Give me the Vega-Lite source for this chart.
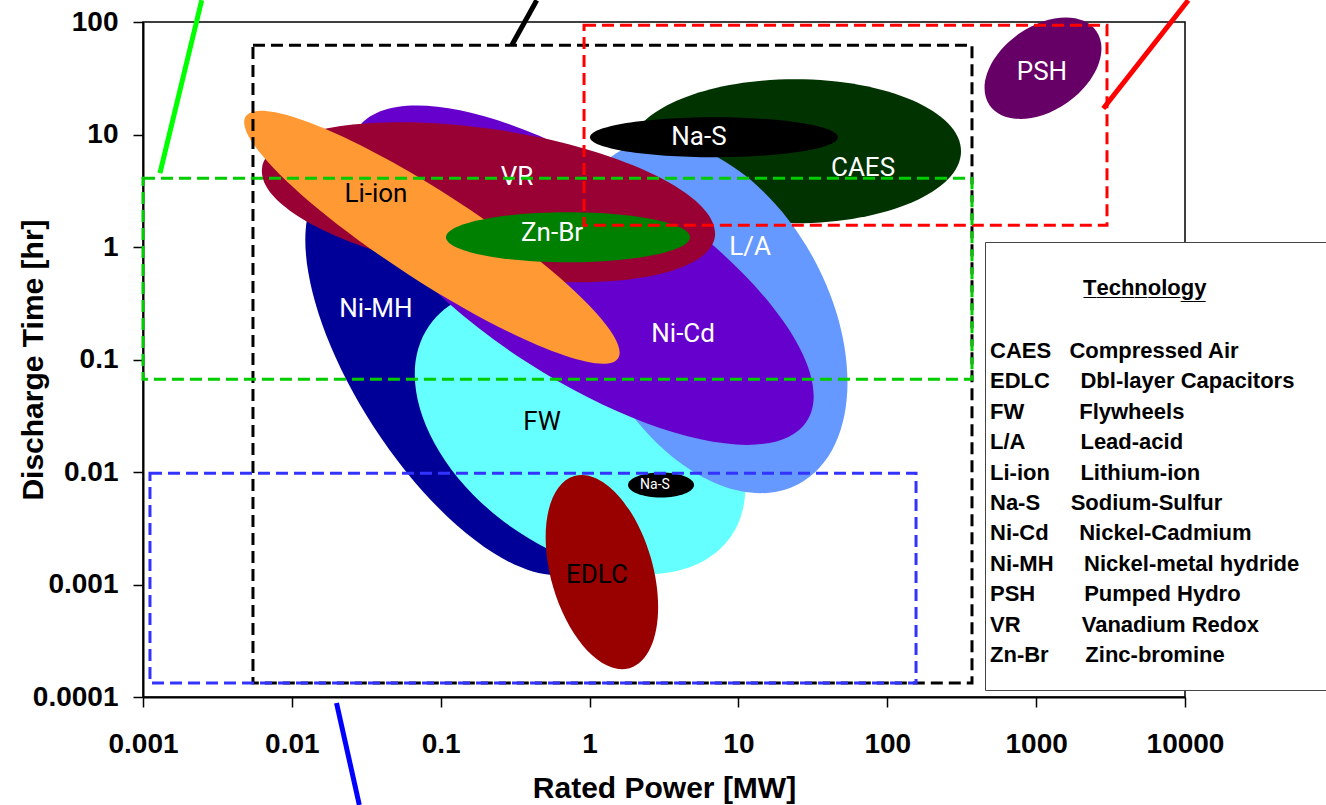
{
  "$schema": "https://vega.github.io/schema/vega-lite/v6.json",
  "width": 1042,
  "height": 675,
  "autosize": {"type": "none"},
  "padding": {"left": 143, "top": 22, "right": 141, "bottom": 108},
  "background": "white",
  "config": {
    "view": {"stroke": "black", "strokeWidth": 1.5},
    "axis": {
      "labelFont": "Liberation Sans", "labelFontWeight": "bold", "labelFontSize": 28, "labelColor": "black",
      "titleFont": "Liberation Sans", "titleFontWeight": "bold", "titleFontSize": 30, "titleColor": "black",
      "domainColor": "black", "domainWidth": 2, "tickColor": "black", "tickWidth": 1.5, "tickSize": 10, "grid": false
    }
  },
  "datasets": {
    "ellipses": [
      {"id": "PSH", "tech": "PSH", "power": 1112, "time": 38.8},
      {"id": "CAES", "tech": "CAES", "power": 24.0, "time": 7.10},
      {"id": "Ni-MH", "tech": "Ni-MH", "power": 0.125, "time": 0.0741},
      {"id": "FW", "tech": "FW", "power": 0.863, "time": 0.0231},
      {"id": "L/A", "tech": "L/A", "power": 6.44, "time": 0.238},
      {"id": "Ni-Cd", "tech": "Ni-Cd", "power": 0.889, "time": 0.561},
      {"id": "VR", "tech": "VR", "power": 0.2095, "time": 2.50},
      {"id": "Li-ion", "tech": "Li-ion", "power": 0.0873, "time": 1.22},
      {"id": "Zn-Br", "tech": "Zn-Br", "power": 0.716, "time": 1.22},
      {"id": "Na-S", "tech": "Na-S", "power": 6.85, "time": 9.46},
      {"id": "EDLC", "tech": "EDLC", "power": 1.21, "time": 0.00129},
      {"id": "Na-S (small)", "tech": "Na-S", "power": 3.02, "time": 0.00765}
    ],
    "labels": [
      {"id": "PSH", "label": "PSH", "power": 1094, "time": 35.7},
      {"id": "Na-S", "label": "Na-S", "power": 5.43, "time": 9.46},
      {"id": "CAES", "label": "CAES", "power": 68.7, "time": 5.01},
      {"id": "VR", "label": "VR", "power": 0.325, "time": 4.17},
      {"id": "Li-ion", "label": "Li-ion", "power": 0.0367, "time": 2.94},
      {"id": "Zn-Br", "label": "Zn-Br", "power": 0.560, "time": 1.33},
      {"id": "L/A", "label": "L/A", "power": 11.97, "time": 0.996},
      {"id": "Ni-MH", "label": "Ni-MH", "power": 0.0367, "time": 0.280},
      {"id": "Ni-Cd", "label": "Ni-Cd", "power": 4.25, "time": 0.168},
      {"id": "FW", "label": "FW", "power": 0.479, "time": 0.0277},
      {"id": "Na-S (small)", "label": "Na-S", "power": 2.75, "time": 0.00765},
      {"id": "EDLC", "label": "EDLC", "power": 1.12, "time": 0.00121}
    ],
    "zones": [
      {"zone": "outer", "power": 0.00548, "power2": 370.7, "time": 0.000133, "time2": 62.1},
      {"zone": "upper", "power": 0.918, "power2": 2992, "time": 1.563, "time2": 93.5},
      {"zone": "middle", "power": 0.001, "power2": 370.7, "time": 0.0669, "time2": 4.09},
      {"zone": "lower", "power": 0.001114, "power2": 156, "time": 0.000133, "time2": 0.00977}
    ],
    "pointers": [
      {"pointer": "middle", "power": 0.0013, "time": 4.53, "power2": 0.00248, "time2": 156},
      {"pointer": "outer", "power": 0.300, "time": 62.1, "power2": 0.4416, "time2": 156},
      {"pointer": "upper", "power": 2825, "time": 17.0, "power2": 10520, "time2": 156},
      {"pointer": "lower", "power": 0.01995, "time": 0.0000885, "power2": 0.0284, "time2": 0.00001097}
    ]
  },
  "encoding": {
    "x": {
      "field": "power", "type": "quantitative",
      "scale": {"type": "log", "domain": [0.001, 10000], "nice": false},
      "axis": {"title": "Rated Power [MW]", "values": [0.001, 0.01, 0.1, 1, 10, 100, 1000, 10000], "format": "~g",
        "labelFlush": false, "labelOverlap": false, "labelBound": false, "labelPadding": 23, "titleY": 76, "titleBaseline": "top"}
    },
    "y": {
      "field": "time", "type": "quantitative",
      "scale": {"type": "log", "domain": [0.0001, 100], "nice": false},
      "axis": {"title": "Discharge Time [hr]", "values": [0.0001, 0.001, 0.01, 0.1, 1, 10, 100], "format": "~g",
        "labelFlush": false, "labelOverlap": false, "labelBound": false, "labelPadding": 15, "titleX": -95}
    }
  },
  "layer": [
    {
      "data": {"name": "ellipses"},
      "encoding": {
        "color": {
          "field": "tech", "type": "nominal",
          "scale": {
            "domain": ["CAES", "EDLC", "FW", "L/A", "Li-ion", "Na-S", "Ni-Cd", "Ni-MH", "PSH", "VR", "Zn-Br"],
            "range": ["#003300", "#990000", "#66FFFF", "#6699FF", "#FF9933", "#000000", "#6600CC", "#000099", "#660066", "#990033", "#008000"]
          },
          "legend": {
            "orient": "none", "legendX": 842, "legendY": 220, "direction": "vertical",
            "title": ["\u00a0", "T\u0332e\u0332c\u0332h\u0332n\u0332o\u0332l\u0332o\u0332g\u0332y\u0332\u00a0\u00a0\u00a0\u00a0\u00a0\u200b"],
            "titleFont": "Liberation Sans", "titleFontSize": 22, "titleFontWeight": "bold", "titleColor": "black",
            "titleAnchor": "middle", "titleLineHeight": 12, "titlePadding": 40, "titleLimit": 600,
            "labelFont": "Liberation Sans", "labelFontSize": 22, "labelFontWeight": "bold", "labelColor": "black",
            "labelLimit": 600, "labelOffset": -41,
            "symbolSize": 0, "symbolOpacity": 0, "symbolStrokeWidth": 0,
            "rowPadding": 8.4, "padding": 24,
            "fillColor": "white", "strokeColor": "#444444",
            "labelExpr": "['CAES\u00a0\u00a0\u00a0Compressed Air','EDLC\u00a0\u00a0\u00a0\u00a0\u00a0Dbl-layer Capacitors','FW\u00a0\u00a0\u00a0\u00a0\u00a0\u00a0\u00a0\u00a0\u00a0Flywheels','L/A\u00a0\u00a0\u00a0\u00a0\u00a0\u00a0\u00a0\u00a0\u00a0Lead-acid','Li-ion\u00a0\u00a0\u00a0\u00a0\u00a0Lithium-ion','Na-S\u00a0\u00a0\u00a0\u00a0\u00a0Sodium-Sulfur','Ni-Cd\u00a0\u00a0\u00a0\u00a0\u00a0Nickel-Cadmium','Ni-MH\u00a0\u00a0\u00a0\u00a0\u00a0Nickel-metal hydride\u00a0\u00a0\u200b','PSH\u00a0\u00a0\u00a0\u00a0\u00a0\u00a0\u00a0\u00a0Pumped Hydro','VR\u00a0\u00a0\u00a0\u00a0\u00a0\u00a0\u00a0\u00a0\u00a0\u00a0Vanadium Redox','Zn-Br\u00a0\u00a0\u00a0\u00a0\u00a0\u00a0Zinc-bromine'][indexof(['CAES','EDLC','FW','L/A','Li-ion','Na-S','Ni-Cd','Ni-MH','PSH','VR','Zn-Br'], datum.label)]"
          }
        }
      },
      "layer": [
        {"transform": [{"filter": {"field": "id", "equal": "PSH"}}],
         "mark": {"type": "point", "filled": true, "opacity": 1, "strokeWidth": 0, "size": 4, "angle": -35,
           "shape": "M 65 0 A 65 42 0 0 1 0 42 A 65 42 0 0 1 -65 0 A 65 42 0 0 1 0 -42 A 65 42 0 0 1 65 0 Z"}},
        {"transform": [{"filter": {"field": "id", "equal": "CAES"}}],
         "mark": {"type": "point", "filled": true, "opacity": 1, "strokeWidth": 0, "size": 4, "angle": 0,
           "shape": "M 166 0 A 166 72 0 0 1 0 72 A 166 72 0 0 1 -166 0 A 166 72 0 0 1 0 -72 A 166 72 0 0 1 166 0 Z"}},
        {"transform": [{"filter": {"field": "id", "equal": "Ni-MH"}}],
         "mark": {"type": "point", "filled": true, "opacity": 1, "strokeWidth": 0, "size": 4, "angle": 57,
           "shape": "M 231 0 A 231 97 0 0 1 0 97 A 231 97 0 0 1 -231 0 A 231 97 0 0 1 0 -97 A 231 97 0 0 1 231 0 Z"}},
        {"transform": [{"filter": {"field": "id", "equal": "FW"}}],
         "mark": {"type": "point", "filled": true, "opacity": 1, "strokeWidth": 0, "size": 4, "angle": 35,
           "shape": "M 184 0 A 184 118 0 0 1 0 118 A 184 118 0 0 1 -184 0 A 184 118 0 0 1 0 -118 A 184 118 0 0 1 184 0 Z"}},
        {"transform": [{"filter": {"field": "id", "equal": "L/A"}}],
         "mark": {"type": "point", "filled": true, "opacity": 1, "strokeWidth": 0, "size": 4, "angle": 62,
           "shape": "M 189 0 A 189 119 0 0 1 0 119 A 189 119 0 0 1 -189 0 A 189 119 0 0 1 0 -119 A 189 119 0 0 1 189 0 Z"}},
        {"transform": [{"filter": {"field": "id", "equal": "Ni-Cd"}}],
         "mark": {"type": "point", "filled": true, "opacity": 1, "strokeWidth": 0, "size": 4, "angle": 33,
           "shape": "M 268 0 A 268 103 0 0 1 0 103 A 268 103 0 0 1 -268 0 A 268 103 0 0 1 0 -103 A 268 103 0 0 1 268 0 Z"}},
        {"transform": [{"filter": {"field": "id", "equal": "VR"}}],
         "mark": {"type": "point", "filled": true, "opacity": 1, "strokeWidth": 0, "size": 4, "angle": 8.7,
           "shape": "M 229 0 A 229 73 0 0 1 0 73 A 229 73 0 0 1 -229 0 A 229 73 0 0 1 0 -73 A 229 73 0 0 1 229 0 Z"}},
        {"transform": [{"filter": {"field": "id", "equal": "Li-ion"}}],
         "mark": {"type": "point", "filled": true, "opacity": 1, "strokeWidth": 0, "size": 4, "angle": 33,
           "shape": "M 222 0 A 222 44 0 0 1 0 44 A 222 44 0 0 1 -222 0 A 222 44 0 0 1 0 -44 A 222 44 0 0 1 222 0 Z"}},
        {"transform": [{"filter": {"field": "id", "equal": "Zn-Br"}}],
         "mark": {"type": "point", "filled": true, "opacity": 1, "strokeWidth": 0, "size": 4, "angle": 0,
           "shape": "M 122 0 A 122 25 0 0 1 0 25 A 122 25 0 0 1 -122 0 A 122 25 0 0 1 0 -25 A 122 25 0 0 1 122 0 Z"}},
        {"transform": [{"filter": {"field": "id", "equal": "Na-S"}}],
         "mark": {"type": "point", "filled": true, "opacity": 1, "strokeWidth": 0, "size": 4, "angle": 0,
           "shape": "M 124 0 A 124 20 0 0 1 0 20 A 124 20 0 0 1 -124 0 A 124 20 0 0 1 0 -20 A 124 20 0 0 1 124 0 Z"}},
        {"transform": [{"filter": {"field": "id", "equal": "EDLC"}}],
         "mark": {"type": "point", "filled": true, "opacity": 1, "strokeWidth": 0, "size": 4, "angle": 74,
           "shape": "M 100 0 A 100 51 0 0 1 0 51 A 100 51 0 0 1 -100 0 A 100 51 0 0 1 0 -51 A 100 51 0 0 1 100 0 Z"}},
        {"transform": [{"filter": {"field": "id", "equal": "Na-S (small)"}}],
         "mark": {"type": "point", "filled": true, "opacity": 1, "strokeWidth": 0, "size": 4, "angle": 0,
           "shape": "M 33 0 A 33 12.5 0 0 1 0 12.5 A 33 12.5 0 0 1 -33 0 A 33 12.5 0 0 1 0 -12.5 A 33 12.5 0 0 1 33 0 Z"}}
      ]
    },
    {
      "data": {"name": "labels"},
      "encoding": {"text": {"field": "label", "type": "nominal"}},
      "layer": [
        {"transform": [{"filter": {"not": {"field": "id", "oneOf": ["Li-ion", "FW", "EDLC", "Na-S (small)"]}}}],
         "mark": {"type": "text", "font": "Roboto", "fontSize": 26, "color": "white", "align": "center", "baseline": "middle"}},
        {"transform": [{"filter": {"field": "id", "oneOf": ["Li-ion", "FW", "EDLC"]}}],
         "mark": {"type": "text", "font": "Roboto", "fontSize": 26, "color": "black", "align": "center", "baseline": "middle"}},
        {"transform": [{"filter": {"field": "id", "equal": "Na-S (small)"}}],
         "mark": {"type": "text", "font": "Roboto", "fontSize": 14, "color": "white", "align": "center", "baseline": "middle"}}
      ]
    },
    {
      "data": {"name": "zones"},
      "encoding": {"x2": {"field": "power2"}, "y2": {"field": "time2"}},
      "layer": [
        {"transform": [{"filter": {"field": "zone", "equal": "outer"}}],
         "mark": {"type": "rect", "fillOpacity": 0, "stroke": "#000000", "strokeWidth": 3, "strokeDash": [12, 6]}},
        {"transform": [{"filter": {"field": "zone", "equal": "upper"}}],
         "mark": {"type": "rect", "fillOpacity": 0, "stroke": "#FF0000", "strokeWidth": 3, "strokeDash": [12, 6]}},
        {"transform": [{"filter": {"field": "zone", "equal": "middle"}}],
         "mark": {"type": "rect", "fillOpacity": 0, "stroke": "#00CC00", "strokeWidth": 3, "strokeDash": [12, 6]}},
        {"transform": [{"filter": {"field": "zone", "equal": "lower"}}],
         "mark": {"type": "rect", "fillOpacity": 0, "stroke": "#3333FF", "strokeWidth": 3, "strokeDash": [12, 6]}}
      ]
    },
    {
      "data": {"name": "pointers"},
      "encoding": {"x2": {"field": "power2"}, "y2": {"field": "time2"}},
      "layer": [
        {"transform": [{"filter": {"field": "pointer", "equal": "middle"}}],
         "mark": {"type": "rule", "color": "#00FF00", "strokeWidth": 5, "clip": false}},
        {"transform": [{"filter": {"field": "pointer", "equal": "outer"}}],
         "mark": {"type": "rule", "color": "#000000", "strokeWidth": 5, "clip": false}},
        {"transform": [{"filter": {"field": "pointer", "equal": "upper"}}],
         "mark": {"type": "rule", "color": "#FF0000", "strokeWidth": 5, "clip": false}},
        {"transform": [{"filter": {"field": "pointer", "equal": "lower"}}],
         "mark": {"type": "rule", "color": "#0000FF", "strokeWidth": 5, "clip": false}}
      ]
    }
  ]
}
